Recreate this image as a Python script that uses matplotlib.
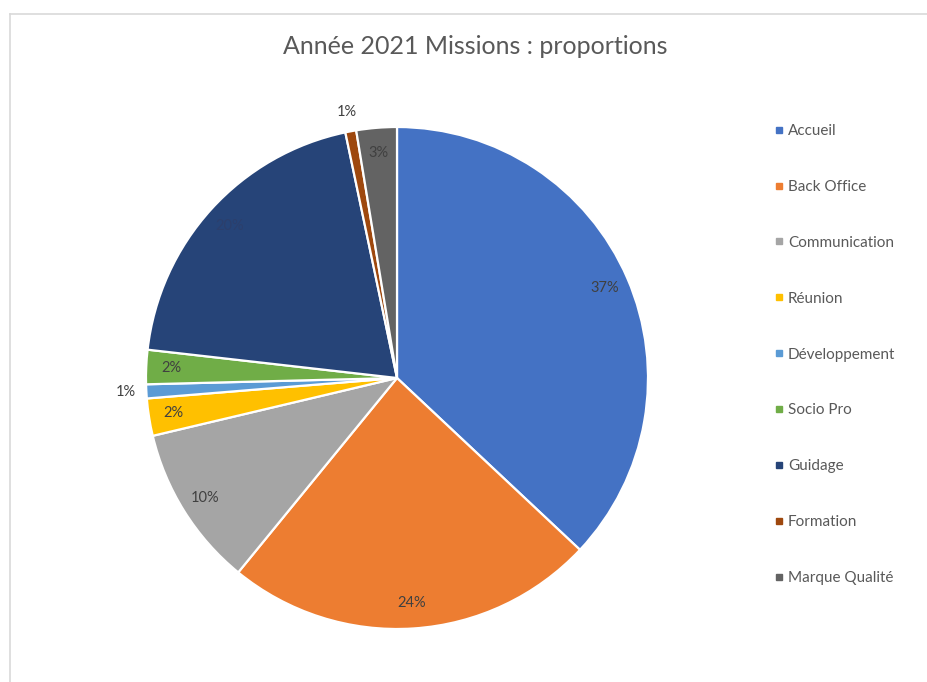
import matplotlib
matplotlib.use("Agg")
import matplotlib.pyplot as plt
import numpy as np
from matplotlib.lines import Line2D

categories = ["Accueil", "Back Office", "Communication", "Réunion", "Développement",
              "Socio Pro", "Guidage", "Formation", "Marque Qualité"]
values = [37.0, 23.9, 10.4, 2.4, 0.9, 2.2, 19.9, 0.7, 2.6]
colors = ["#4472C4", "#ED7D31", "#A5A5A5", "#FFC000", "#5B9BD5",
          "#70AD47", "#264478", "#9E480E", "#636363"]
outside = ["Développement", "Formation"]

plt.rcParams['font.family'] = ['Lato', 'DejaVu Sans']

W, H = 927, 682
fig = plt.figure(figsize=(W / 100, H / 100), dpi=100)
fig.patch.set_facecolor("white")

cx, cy, r = 397, 378, 251
ax = fig.add_axes([(cx - r) / W, (H - cy - r) / H, 2 * r / W, 2 * r / H])

wedges, texts, autotexts = ax.pie(
    values, colors=colors, startangle=90, counterclock=False,
    autopct='%1.0f%%', pctdistance=0.9, radius=1.0,
    wedgeprops=dict(edgecolor="white", linewidth=1.6),
    textprops=dict(fontsize=10.5, color="#404040"))
ax.set_xlim(-1, 1)
ax.set_ylim(-1, 1)
ax.set_aspect("equal")
ax.axis("off")

for w, t, cat in zip(wedges, autotexts, categories):
    ang = np.deg2rad((w.theta1 + w.theta2) / 2)
    if cat in outside:
        d = 1.08
        t.set_position((d * np.cos(ang), d * np.sin(ang)))
    if cat == "Guidage":
        t.set_color("#2c3f6c")

# title
fig.text(475 / W, 1 - 47 / H, "Année 2021 Missions : proportions",
         ha="center", va="center", fontsize=18, color="#595959")

# legend
handles = [Line2D([0], [0], marker='s', linestyle='none', markersize=5,
                  markerfacecolor=c, markeredgecolor=c) for c in colors]
leg = fig.legend(handles, categories, loc="upper left",
                 bbox_to_anchor=(768 / W, 1 - 118 / H), frameon=False,
                 fontsize=11, labelspacing=2.74, handlelength=0.6,
                 handletextpad=0.3, borderaxespad=0)
for t in leg.get_texts():
    t.set_color("#595959")

# border lines
fig.add_artist(Line2D([10 / W, 10 / W], [0, 1 - 14 / H], transform=fig.transFigure,
                      color="#d9d9d9", linewidth=1.2))
fig.add_artist(Line2D([10 / W, 1], [1 - 14 / H, 1 - 14 / H], transform=fig.transFigure,
                      color="#d9d9d9", linewidth=1.2))

fig.savefig("out.png", dpi=100)
